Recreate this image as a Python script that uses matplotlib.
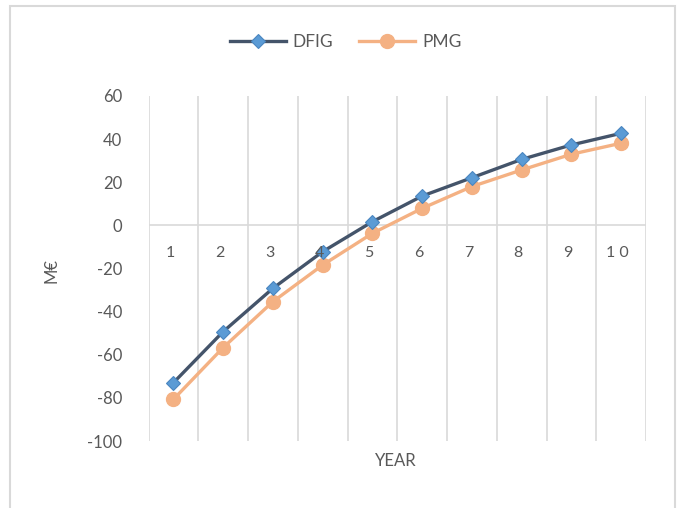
import matplotlib.pyplot as plt
import matplotlib.patches as patches
import numpy as np

plt.rcParams['font.family'] = ['Lato', 'DejaVu Sans']

years = [1, 2, 3, 4, 5, 6, 7, 8, 9, 10]
year_labels = ['1', '2', '3', '4', '5', '6', '7', '8', '9', '1 0']
dfig = [-73.0, -49.3, -29.2, -12.2, 1.7, 13.6, 22.1, 30.6, 37.3, 42.7]
pmg = [-80.7, -56.7, -35.4, -18.4, -3.7, 7.9, 18.0, 25.7, 33.0, 38.1]
y_ticks = [60, 40, 20, 0, -20, -40, -60, -80, -100]

txt = '#595959'
grid = '#D9D9D9'

fig = plt.figure(figsize=(6.78, 5.08), dpi=100)

# light chart-area border (bottom edge runs off the image)
fig.patches.append(patches.Rectangle((10 / 678, -0.05), 665 / 678, 1.05 - 6 / 508,
                                     transform=fig.transFigure, fill=False,
                                     edgecolor=grid, linewidth=1.5))

ax = fig.add_axes([148.5 / 678, 1 - 441 / 508, 497.5 / 678, 345 / 508])
ax.set_xlim(0.5, 10.5)
ax.set_ylim(-100, 60)
for s in ax.spines.values():
    s.set_visible(False)

# vertical category separators and the zero line
for xb in np.arange(0.5, 11, 1.0):
    ax.axvline(xb, color=grid, lw=1.2, zorder=0)
ax.axhline(0, color=grid, lw=1.2, zorder=0)

ax.plot(years, dfig, color='#44546A', lw=2.4, marker='D', markersize=7.5,
        markerfacecolor='#5B9BD5', markeredgecolor='#4A86C0', markeredgewidth=0.8,
        label='DFIG', zorder=3)
ax.plot(years, pmg, color='#F4B183', lw=2.4, marker='o', markersize=10,
        markerfacecolor='#F4B183', markeredgecolor='#F4B183',
        label='PMG', zorder=2)

ax.set_yticks(y_ticks)
ax.set_yticklabels([str(v) for v in y_ticks])
ax.tick_params(axis='y', length=0, pad=19, labelsize=12, labelcolor=txt)
ax.set_xticks([])

# category labels sit just under the zero line
for x, lab in zip(years, year_labels):
    ax.text(x - 0.07, -13, lab, ha='center', va='center', fontsize=11.5, color=txt)

ax.set_ylabel('M€', fontsize=12, color=txt)
ax.yaxis.set_label_coords(-0.178, 0.495)
fig.text(396 / 678, 1 - 461 / 508, 'YEAR', ha='center', va='center',
         fontsize=12, color=txt)

fig.legend(loc='center', bbox_to_anchor=(0.51, 1 - 42 / 508), ncol=2,
           frameon=False, fontsize=12.5, labelcolor=txt, handlelength=3.2,
           columnspacing=1.5, handletextpad=0.4)

fig.savefig('out.png', dpi=100)
